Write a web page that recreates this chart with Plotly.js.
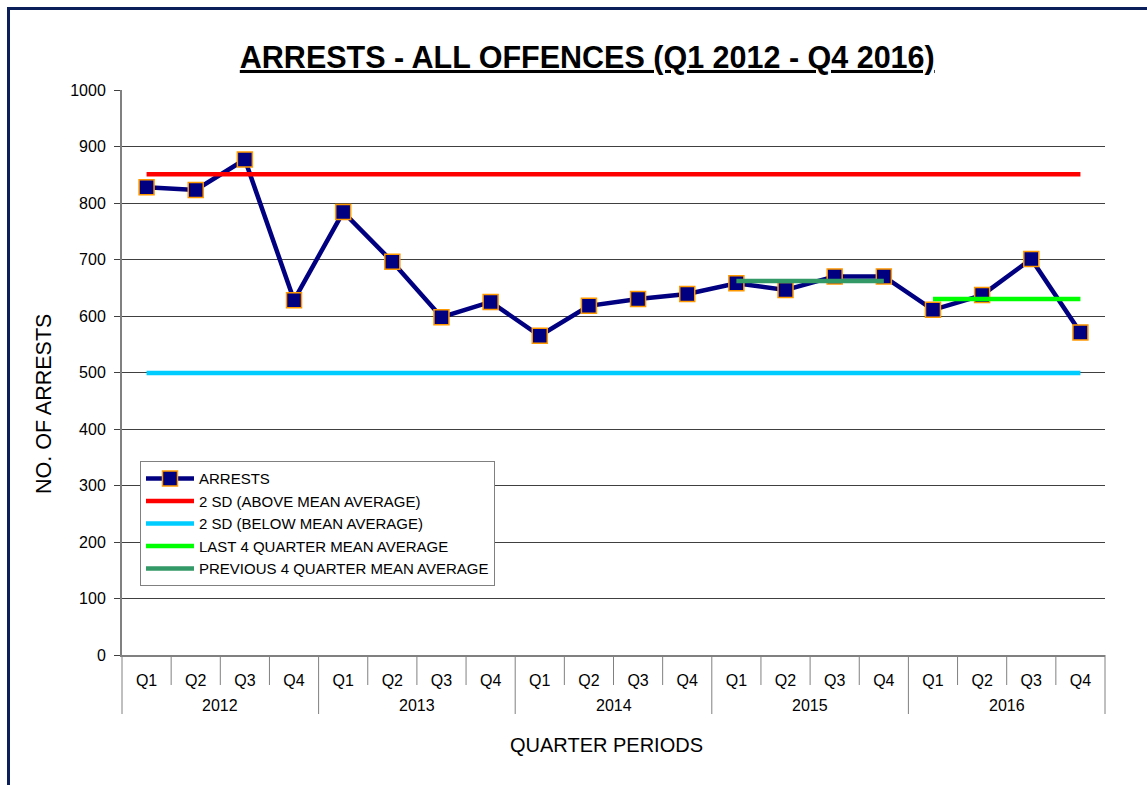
<!DOCTYPE html>
<html>
<head>
<meta charset="utf-8">
<script src="https://cdn.plot.ly/plotly-3.0.1.min.js"></script>
<style>
  html, body { margin: 0; padding: 0; background: #fff; }
  #wrap { position: relative; width: 1147px; height: 785px; overflow: hidden; }
  #chart { width: 1147px; height: 785px; }
  #frame { position: absolute; left: 7px; top: 7px; width: 1160px; height: 800px;
           border-top: 3px solid #0b1f5b; border-left: 3px solid #0b1f5b; pointer-events: none; }
</style>
</head>
<body>
<div id="wrap">
  <div id="chart"></div>
  <div id="frame"></div>
</div>
<script>
const years = ['2012', '2013', '2014', '2015', '2016'];
const quarters = ['Q1', 'Q2', 'Q3', 'Q4'];

const arrests = [828, 823, 877, 628, 784, 696, 598, 625, 565, 618, 630, 639, 658, 646, 670, 670, 611, 637, 701, 571];
const sdAbove = [851, 851, 851, 851, 851, 851, 851, 851, 851, 851, 851, 851, 851, 851, 851, 851, 851, 851, 851, 851];
const sdBelow = [499, 499, 499, 499, 499, 499, 499, 499, 499, 499, 499, 499, 499, 499, 499, 499, 499, 499, 499, 499];
const last4Year = '2016';
const last4Mean = [630, 630, 630, 630];
const prev4Year = '2015';
const prev4Mean = [662, 662, 662, 662];

// category keys "YYYY Qn" built from the arrays above
const cats = [];
years.forEach(y => quarters.forEach(q => cats.push(y + ' ' + q)));
const qText = cats.map(c => c.split(' ')[1]);
const xLast = quarters.map(q => last4Year + ' ' + q);
const xPrev = quarters.map(q => prev4Year + ' ' + q);

const FONT = 'Arial, "Liberation Sans", sans-serif';
const GRAY = '#808080';

const traces = [
  { x: cats, y: arrests, name: 'ARRESTS', type: 'scatter', mode: 'lines+markers',
    line: { color: '#000080', width: 4.5 },
    marker: { symbol: 'square', size: 15, color: '#000080', line: { color: '#FF9900', width: 1.5 } } },
  { x: cats, y: sdAbove, name: '2 SD (ABOVE MEAN AVERAGE)', type: 'scatter', mode: 'lines',
    line: { color: '#FF0000', width: 4.5 } },
  { x: cats, y: sdBelow, name: '2 SD (BELOW MEAN AVERAGE)', type: 'scatter', mode: 'lines',
    line: { color: '#00CCFF', width: 4.5 } },
  { x: xLast, y: last4Mean, name: 'LAST 4 QUARTER MEAN AVERAGE', type: 'scatter', mode: 'lines',
    line: { color: '#00FF00', width: 4.5 } },
  { x: xPrev, y: prev4Mean, name: 'PREVIOUS 4 QUARTER MEAN AVERAGE', type: 'scatter', mode: 'lines',
    line: { color: '#339966', width: 4.5 } }
];

// plot area: x 122..1105, y 90..655
const plotH = 565;
const n = cats.length;
const shapes = [];
for (let i = 0; i <= n; i++) {
  const isYear = (i % quarters.length === 0);
  shapes.push({ type: 'line', xref: 'paper', yref: 'paper', x0: i / n, x1: i / n,
                y0: 0, y1: -(isYear ? 59 : 30) / plotH, line: { color: GRAY, width: 1 } });
}
const annotations = years.map((y, k) => ({
  text: y, xref: 'paper', yref: 'paper', x: (k * quarters.length + quarters.length / 2) / n,
  y: -50 / plotH, xanchor: 'center', yanchor: 'middle', showarrow: false,
  font: { family: FONT, size: 16, color: '#000' }
}));
annotations.push({ text: 'QUARTER PERIODS', xref: 'paper', yref: 'paper', x: (606 - 122) / 983,
  y: -(745 - 655) / plotH, xanchor: 'center', yanchor: 'middle', showarrow: false,
  font: { family: FONT, size: 20, color: '#000' } });
annotations.push({ text: 'NO. OF ARRESTS', xref: 'paper', yref: 'paper', x: -(122 - 44) / 983,
  y: (655 - 404) / plotH, xanchor: 'center', yanchor: 'middle', textangle: -90, showarrow: false,
  font: { family: FONT, size: 21.5, color: '#000' } });

const layout = {
  width: 1147, height: 785,
  paper_bgcolor: '#ffffff', plot_bgcolor: '#ffffff',
  margin: { l: 122, r: 42, t: 90, b: 130 },
  font: { family: FONT, color: '#000', size: 14 },
  title: { text: '<u><b>ARRESTS - ALL OFFENCES (Q1 2012 - Q4 2016)</b></u>',
           font: { family: FONT, size: 30.5, color: '#000' },
           x: 0.512, xref: 'container', xanchor: 'center', y: 0.927, yref: 'container', yanchor: 'middle' },
  showlegend: true,
  legend: { x: 0.0183, y: 0.343, xanchor: 'left', yanchor: 'top',
            bgcolor: '#ffffff', bordercolor: GRAY, borderwidth: 1,
            font: { family: FONT, size: 15, color: '#000' }, itemwidth: 48 },
  xaxis: {
    type: 'category', range: [-0.5, n - 0.5],
    tickvals: cats, ticktext: qText,
    showgrid: false, zeroline: false,
    showline: true, linecolor: GRAY, linewidth: 1.5,
    ticks: '', ticklabelstandoff: 10,
    tickfont: { family: FONT, size: 16, color: '#000' }
  },
  yaxis: {
    range: [0, 1000], dtick: 100, tick0: 0,
    showgrid: true, gridcolor: '#404040', gridwidth: 1, zeroline: false,
    showline: true, linecolor: GRAY, linewidth: 2,
    ticks: 'outside', ticklen: 6, tickcolor: '#404040', ticklabelstandoff: 5,
    tickfont: { family: FONT, size: 16, color: '#000' }
  },
  shapes: shapes,
  annotations: annotations
};

Plotly.newPlot('chart', traces, layout, { displayModeBar: false, staticPlot: true });
</script>
</body>
</html>
